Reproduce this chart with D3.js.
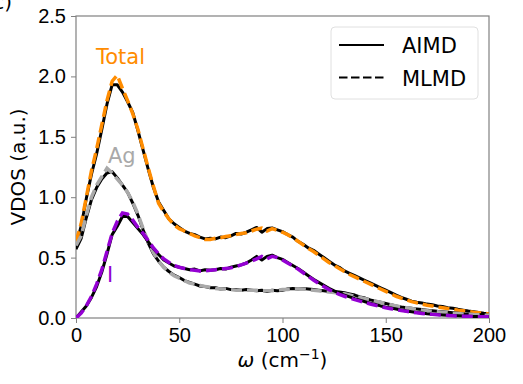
<!DOCTYPE html>
<html>
<head>
<meta charset="utf-8">
<script src="https://cdn.jsdelivr.net/npm/d3@7"></script>
<style>
  body { margin: 0; background: #fff; }
  svg { font-family: "DejaVu Sans", sans-serif; }
  .axis path, .axis line { stroke: #808080; }
  .axis text { fill: #000; font-size: 20px; }
</style>
</head>
<body>
<div id="chart"></div>
<script>
// frequency grid (cm^-1)
const omega = [0, 2.5, 5, 7.5, 10, 12.5, 15, 17.5, 20, 22.5, 25, 27.5, 30, 32.5, 35, 37.5, 40, 42.5, 45, 47.5,
  50, 52.5, 55, 57.5, 60, 62.5, 65, 67.5, 70, 72.5, 75, 77.5, 80, 82.5, 85, 87.5, 90, 92.5, 95, 97.5,
  100, 102.5, 105, 107.5, 110, 112.5, 115, 117.5, 120, 122.5, 125, 127.5, 130, 132.5, 135, 137.5, 140, 142.5, 145, 147.5,
  150, 152.5, 155, 157.5, 160, 162.5, 165, 167.5, 170, 172.5, 175, 177.5, 180, 182.5, 185, 187.5, 190, 192.5, 195, 197.5, 200];

// VDOS, AIMD (solid black)
const totalAIMD = [0.60, 0.76, 0.99, 1.19, 1.36, 1.56, 1.77, 1.93, 1.93, 1.87, 1.79, 1.70, 1.55, 1.39, 1.23, 1.08, 0.96, 0.89, 0.82, 0.78,
  0.75, 0.72, 0.70, 0.69, 0.67, 0.655, 0.66, 0.655, 0.67, 0.665, 0.68, 0.70, 0.695, 0.71, 0.73, 0.75, 0.71, 0.74, 0.745, 0.73,
  0.715, 0.69, 0.67, 0.635, 0.61, 0.58, 0.56, 0.53, 0.50, 0.47, 0.44, 0.42, 0.39, 0.37, 0.35, 0.33, 0.31, 0.29, 0.27, 0.25,
  0.23, 0.21, 0.19, 0.17, 0.155, 0.14, 0.13, 0.125, 0.115, 0.11, 0.10, 0.095, 0.085, 0.08, 0.072, 0.065, 0.058, 0.052, 0.046, 0.04, 0.035];
const agAIMD = [0.57, 0.66, 0.83, 0.98, 1.08, 1.15, 1.20, 1.21, 1.16, 1.10, 1.04, 0.95, 0.85, 0.73, 0.62, 0.53, 0.47, 0.42, 0.385, 0.355,
  0.335, 0.31, 0.295, 0.28, 0.265, 0.26, 0.25, 0.25, 0.24, 0.245, 0.235, 0.235, 0.23, 0.235, 0.23, 0.225, 0.23, 0.22, 0.23, 0.225,
  0.23, 0.24, 0.245, 0.24, 0.245, 0.24, 0.235, 0.23, 0.225, 0.22, 0.22, 0.215, 0.21, 0.20, 0.19, 0.175, 0.165, 0.15, 0.14, 0.13,
  0.12, 0.11, 0.10, 0.092, 0.085, 0.08, 0.075, 0.07, 0.065, 0.06, 0.055, 0.052, 0.048, 0.044, 0.04, 0.036, 0.033, 0.03, 0.028, 0.025, 0.022];
const iAIMD = [0.00, 0.05, 0.10, 0.17, 0.26, 0.38, 0.53, 0.69, 0.76, 0.84, 0.84, 0.79, 0.74, 0.69, 0.63, 0.575, 0.525, 0.48, 0.455, 0.43,
  0.42, 0.41, 0.40, 0.405, 0.39, 0.40, 0.395, 0.40, 0.41, 0.405, 0.42, 0.43, 0.44, 0.455, 0.48, 0.51, 0.48, 0.51, 0.52, 0.50,
  0.485, 0.46, 0.435, 0.41, 0.38, 0.35, 0.32, 0.295, 0.27, 0.245, 0.225, 0.205, 0.19, 0.175, 0.16, 0.148, 0.135, 0.122, 0.112, 0.10,
  0.09, 0.082, 0.074, 0.066, 0.058, 0.052, 0.046, 0.041, 0.036, 0.032, 0.028, 0.025, 0.022, 0.02, 0.018, 0.016, 0.015, 0.013, 0.012, 0.011, 0.01];

// VDOS, MLMD (coloured dashes)
const totalMLMD = [0.63, 0.78, 1.00, 1.22, 1.40, 1.60, 1.80, 1.96, 2.01, 1.90, 1.80, 1.69, 1.56, 1.40, 1.24, 1.09, 0.95, 0.88, 0.82, 0.77,
  0.74, 0.72, 0.70, 0.68, 0.665, 0.65, 0.65, 0.66, 0.665, 0.675, 0.68, 0.69, 0.70, 0.705, 0.72, 0.735, 0.745, 0.72, 0.74, 0.725,
  0.71, 0.69, 0.665, 0.635, 0.605, 0.575, 0.55, 0.52, 0.49, 0.46, 0.435, 0.41, 0.385, 0.36, 0.34, 0.32, 0.30, 0.28, 0.26, 0.24,
  0.22, 0.20, 0.18, 0.165, 0.15, 0.135, 0.125, 0.115, 0.105, 0.10, 0.09, 0.085, 0.078, 0.072, 0.065, 0.06, 0.054, 0.048, 0.043, 0.038, 0.034];
const agMLMD = [0.60, 0.68, 0.85, 1.00, 1.10, 1.17, 1.24, 1.20, 1.15, 1.10, 1.04, 0.96, 0.86, 0.74, 0.63, 0.54, 0.47, 0.42, 0.38, 0.35,
  0.33, 0.31, 0.29, 0.28, 0.27, 0.26, 0.255, 0.245, 0.24, 0.24, 0.235, 0.23, 0.23, 0.23, 0.23, 0.23, 0.225, 0.225, 0.225, 0.23,
  0.235, 0.235, 0.24, 0.24, 0.24, 0.235, 0.23, 0.225, 0.22, 0.215, 0.21, 0.205, 0.20, 0.19, 0.18, 0.17, 0.16, 0.15, 0.14, 0.13,
  0.12, 0.11, 0.10, 0.092, 0.085, 0.078, 0.072, 0.066, 0.061, 0.056, 0.052, 0.048, 0.044, 0.04, 0.037, 0.034, 0.031, 0.028, 0.026, 0.024, 0.022];
const iMLMD = [0.00, 0.04, 0.10, 0.18, 0.28, 0.40, 0.55, 0.70, 0.80, 0.87, 0.86, 0.81, 0.75, 0.70, 0.64, 0.58, 0.53, 0.49, 0.46, 0.435,
  0.42, 0.41, 0.40, 0.395, 0.39, 0.39, 0.395, 0.40, 0.405, 0.41, 0.415, 0.425, 0.44, 0.455, 0.47, 0.49, 0.51, 0.49, 0.51, 0.50,
  0.48, 0.455, 0.43, 0.405, 0.375, 0.345, 0.315, 0.285, 0.26, 0.235, 0.215, 0.195, 0.18, 0.165, 0.152, 0.14, 0.128, 0.116, 0.105, 0.095,
  0.085, 0.077, 0.069, 0.062, 0.055, 0.049, 0.043, 0.038, 0.034, 0.03, 0.026, 0.023, 0.021, 0.019, 0.017, 0.015, 0.014, 0.012, 0.011, 0.01, 0.01];

const species = [
  {name: 'Total', color: '#ff8c00', aimd: totalAIMD, mlmd: totalMLMD, label: [96, 64]},
  {name: 'Ag', color: '#a9a9a9', aimd: agAIMD, mlmd: agMLMD, label: [108, 163]},
  {name: 'I', color: '#9400d3', aimd: iAIMD, mlmd: iMLMD, label: [107, 282]}
];
const xTicks = [0, 50, 100, 150, 200];
const yTicks = [0.0, 0.5, 1.0, 1.5, 2.0, 2.5];

const totalWidth = 523, totalHeight = 384;
const margins = {top: 16, bottom: 66, left: 76, right: 34};
const width = totalWidth - margins.left - margins.right;
const height = totalHeight - margins.top - margins.bottom;

const svg = d3.select('#chart').append('svg')
  .attr('width', totalWidth)
  .attr('height', totalHeight);

const xScale = d3.scaleLinear().domain([0, 200]).range([0, width]);
const yScale = d3.scaleLinear().domain([0, 2.5]).range([height, 0]);

const plot = svg.append('g')
  .attr('transform', 'translate(' + [margins.left, margins.top] + ')');

plot.append('clipPath').attr('id', 'clip')
  .append('rect').attr('width', width).attr('height', height);

// axes
plot.append('g')
  .attr('class', 'axis axis--x')
  .attr('transform', 'translate(' + [0, height] + ')')
  .call(d3.axisBottom(xScale).tickValues(xTicks).tickSize(5).tickPadding(5).tickFormat(d3.format('d')));
plot.append('g')
  .attr('class', 'axis axis--y')
  .call(d3.axisLeft(yScale).tickValues(yTicks).tickSize(5).tickPadding(5).tickFormat(d3.format('.1f')));
plot.selectAll('.axis .domain').remove();

// frame
plot.append('rect')
  .attr('width', width)
  .attr('height', height)
  .style('fill', 'none')
  .style('stroke', '#808080')
  .style('stroke-width', 1.2);

const line = d3.line()
  .x((d, i) => xScale(omega[i]))
  .y(d => yScale(d));

const curves = plot.append('g').attr('clip-path', 'url(#clip)');
species.forEach(s => {
  curves.append('path')
    .attr('d', line(s.aimd))
    .style('fill', 'none')
    .style('stroke', '#000')
    .style('stroke-width', 3)
    .style('stroke-linejoin', 'round');
  curves.append('path')
    .attr('d', line(s.mlmd))
    .style('fill', 'none')
    .style('stroke', s.color)
    .style('stroke-width', 3.5)
    .style('stroke-dasharray', '11,5');
});

// species labels
svg.selectAll('text.species')
  .data(species)
  .enter()
  .append('text')
  .attr('class', 'species')
  .attr('x', d => d.label[0])
  .attr('y', d => d.label[1])
  .style('font-size', '21px')
  .style('fill', d => d.color)
  .text(d => d.name);

// axis labels
const xLabel = svg.append('text')
  .attr('x', margins.left + width / 2)
  .attr('y', 367)
  .attr('text-anchor', 'middle')
  .style('font-size', '20px');
xLabel.append('tspan').style('font-style', 'italic').text('ω');
xLabel.append('tspan').text(' (cm');
xLabel.append('tspan').attr('dy', -8).style('font-size', '14px').text('−1');
xLabel.append('tspan').attr('dy', 8).text(')');

svg.append('text')
  .attr('transform', 'translate(' + [25, margins.top + height / 2] + ') rotate(-90)')
  .attr('text-anchor', 'middle')
  .style('font-size', '20px')
  .text('VDOS (a.u.)');

// panel tag, cut by the page edge
svg.append('text')
  .attr('x', 12)
  .attr('y', 9)
  .attr('text-anchor', 'end')
  .style('font-size', '20px')
  .text('(c)');

// legend
const legend = svg.append('g')
  .attr('transform', 'translate(' + [331, 27] + ')');
legend.append('rect')
  .attr('width', 147)
  .attr('height', 72)
  .attr('rx', 4)
  .style('fill', '#fff')
  .style('fill-opacity', 0.8)
  .style('stroke', '#e0e0e0');
const legendItems = [{name: 'AIMD', dash: null}, {name: 'MLMD', dash: '8.5,3.5'}];
legendItems.forEach((d, i) => {
  const y = 18 + i * 32.5;
  legend.append('line')
    .attr('x1', 8).attr('x2', 53)
    .attr('y1', y).attr('y2', y)
    .style('stroke', '#000')
    .style('stroke-width', 2)
    .style('stroke-dasharray', d.dash);
  legend.append('text')
    .attr('x', 71)
    .attr('y', y + 8)
    .style('font-size', '21px')
    .text(d.name);
});
</script>
</body>
</html>
